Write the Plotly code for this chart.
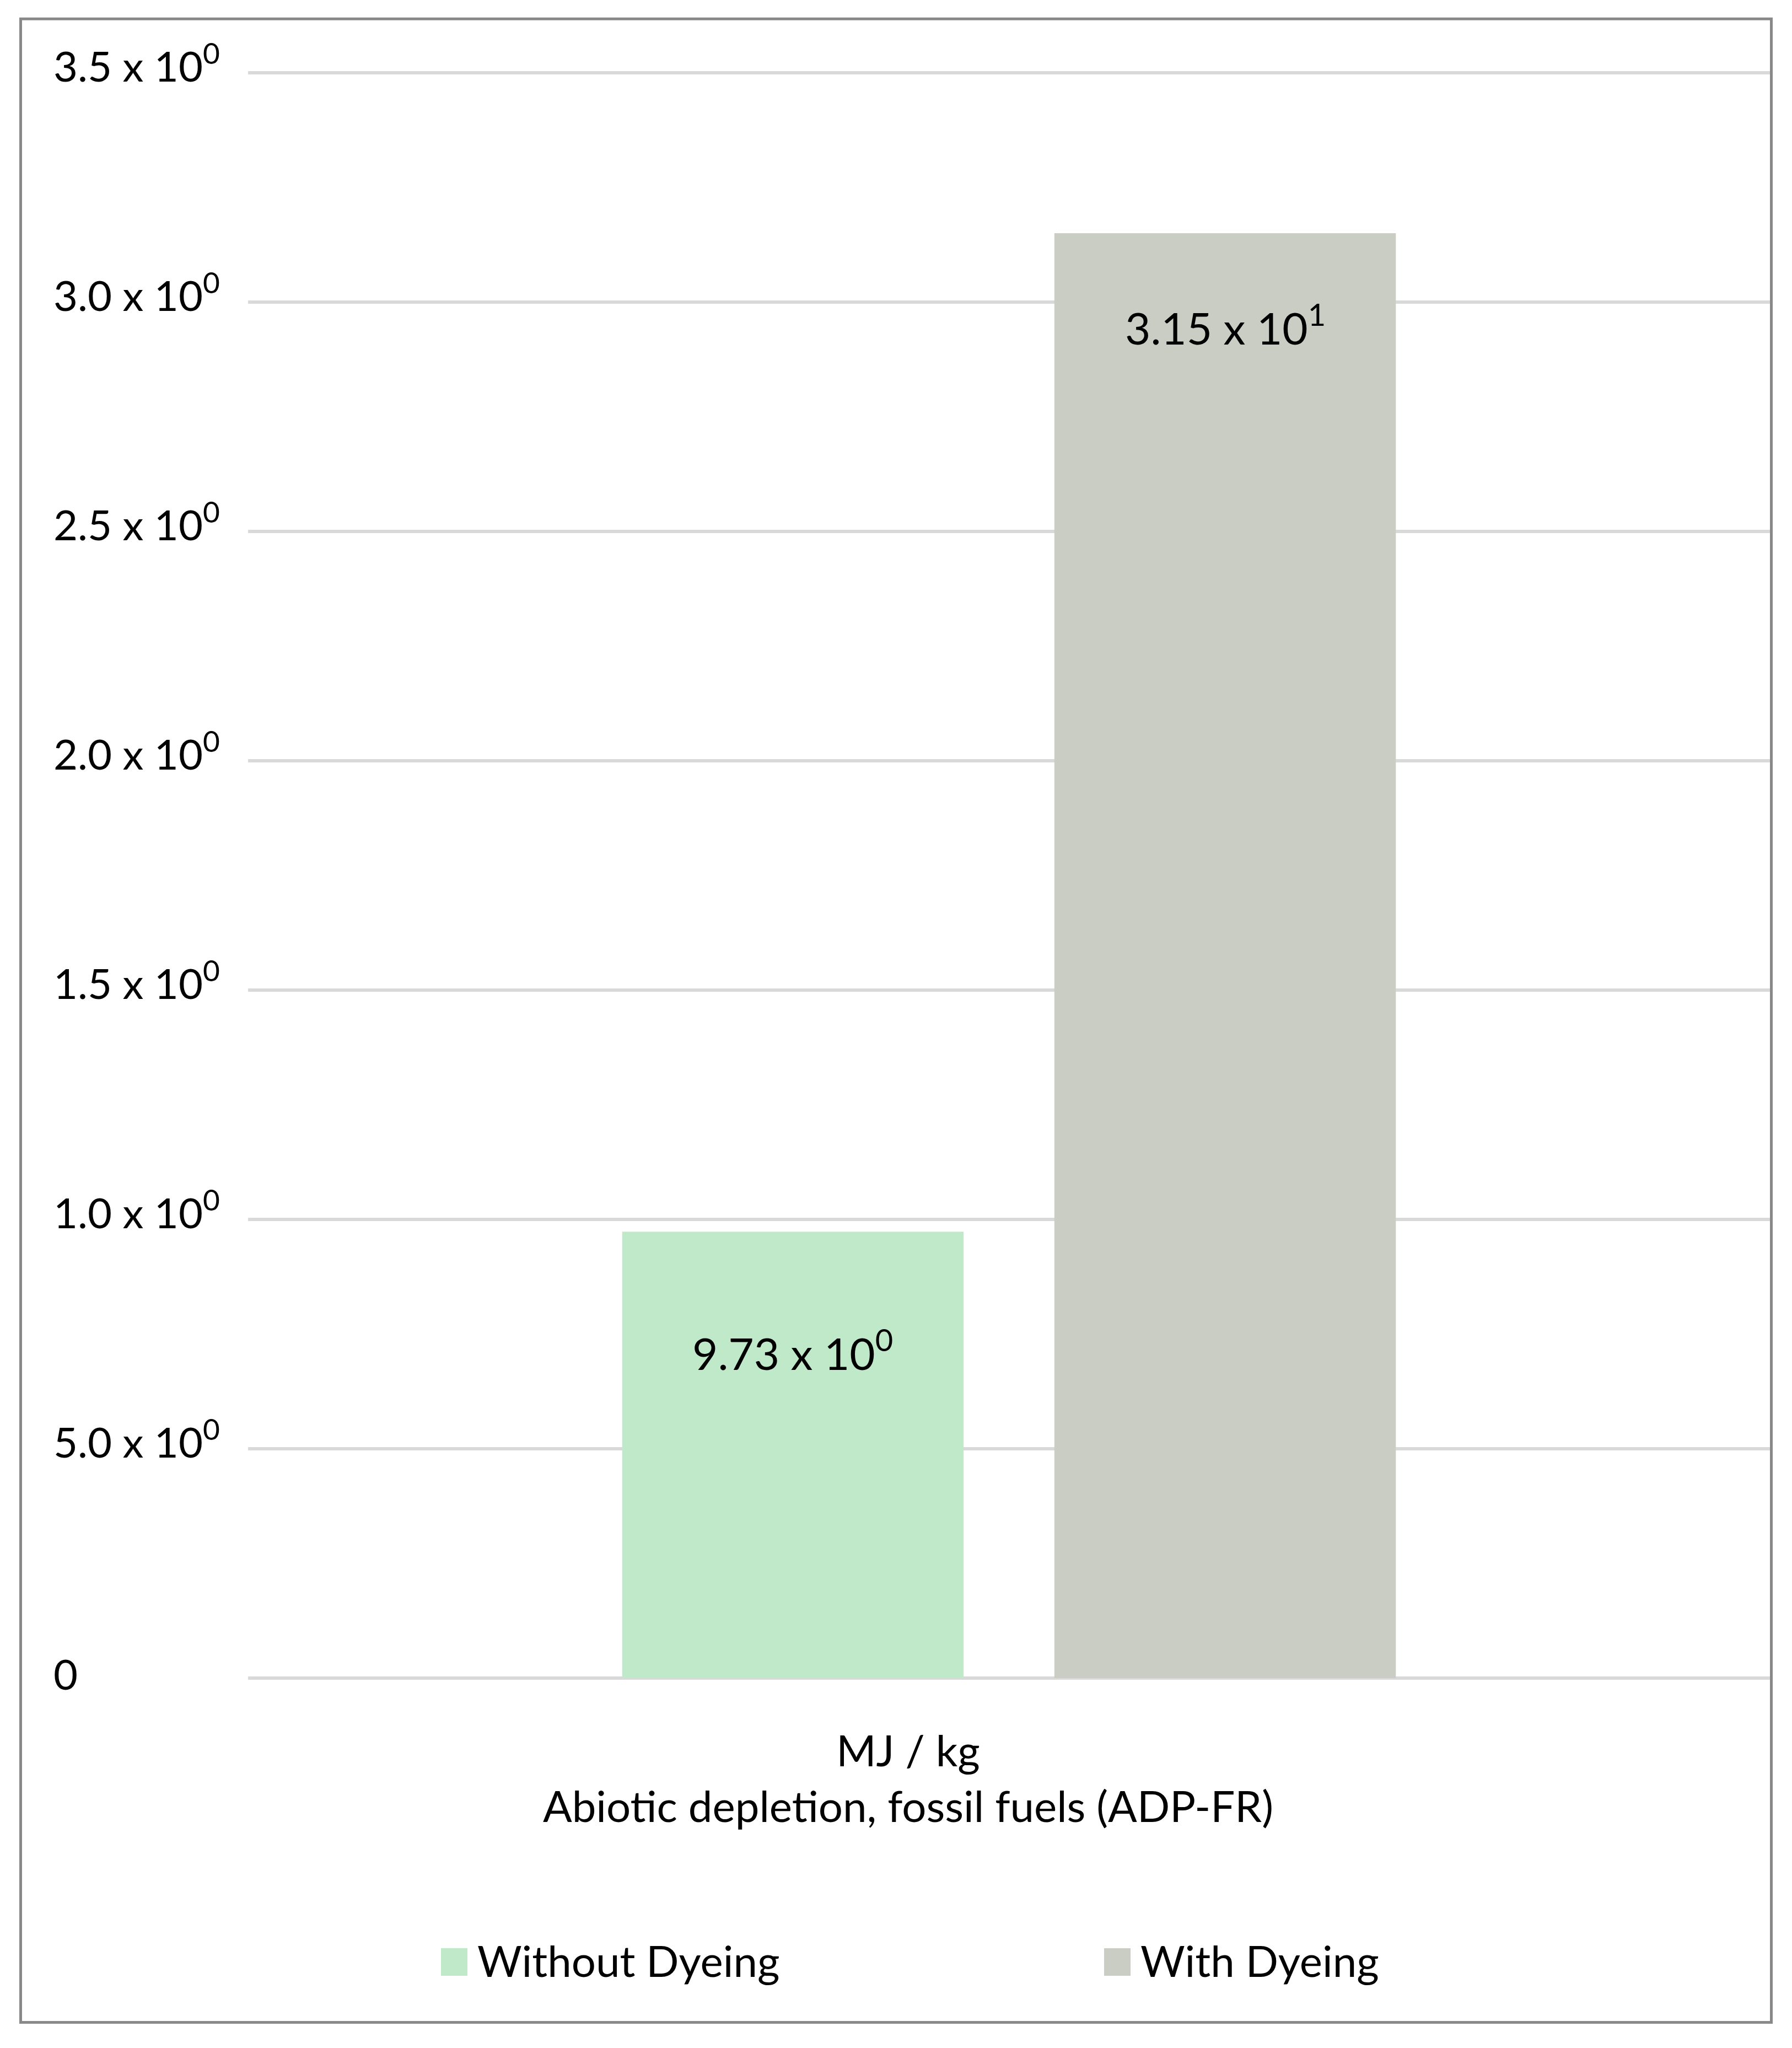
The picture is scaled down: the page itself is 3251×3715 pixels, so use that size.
import plotly.graph_objects as go

# data
categories = ["MJ / kg<br>Abiotic depletion, fossil fuels (ADP-FR)"]
series_names = ["Without Dyeing", "With Dyeing"]
without_dyeing = [9.73]
with_dyeing = [31.5]
value_labels = ["9.73 x 10<sup>0</sup>", "3.15 x 10<sup>1</sup>"]
tick_vals = [0, 5, 10, 15, 20, 25, 30, 35]
tick_labels = ["0", "5.0 x 10<sup>0</sup>", "1.0 x 10<sup>0</sup>", "1.5 x 10<sup>0</sup>",
               "2.0 x 10<sup>0</sup>", "2.5 x 10<sup>0</sup>", "3.0 x 10<sup>0</sup>",
               "3.5 x 10<sup>0</sup>"]

colors = ["#c0e9c9", "#c9cdc4"]
FONT = "Lato"

# page / plot area in pixels
W, H = 3251, 3715
YMAX = 35.08
L, R, B = 450, 3211, 3044
T = 132 - (YMAX - 35) * (3044 - 132) / 35
bargap, bargroupgap = 0.432, 0.21


def px(x):
    return (x - L) / (R - L)


def py(y):
    return (B - y) / (B - T)


fig = go.Figure()
for name, vals, c in zip(series_names, [without_dyeing, with_dyeing], colors):
    fig.add_trace(go.Bar(x=categories, y=vals, name=name, marker=dict(color=c, line=dict(width=0)),
                         showlegend=False, hoverinfo="skip"))

annotations = []
# left aligned y tick labels
for v, t in zip(tick_vals, tick_labels):
    annotations.append(dict(x=px(95), xref="paper", y=v, yref="y", text=t, showarrow=False,
                            xanchor="left", yanchor="middle", yshift=18 if "<sup>" in t else 9,
                            font=dict(family=FONT, size=76, color="#000000")))

# value labels inside the bars
slot = (R - L) * (1 - bargap) / 2
label_drop = [215, 166]
for i, (vals, lab) in enumerate(zip([without_dyeing, with_dyeing], value_labels)):
    annotations.append(dict(x=categories[0], y=vals[0], xref="x", yref="y", text=lab, showarrow=False,
                            xshift=(i - 0.5) * slot, yshift=-label_drop[i], yanchor="middle",
                            font=dict(family=FONT, size=80, color="#000000")))

# category label, centred on the chart area like the original
annotations.append(dict(x=px(1647), y=py(3224), xref="paper", yref="paper", text=categories[0],
                        showarrow=False, xanchor="center", yanchor="middle",
                        font=dict(family=FONT, size=78, color="#000000")))

# custom legend
shapes = []
legend_x = [800, 2003]
for xs, name, c in zip(legend_x, series_names, colors):
    shapes.append(dict(type="rect", xref="paper", yref="paper", x0=px(xs), x1=px(xs + 48),
                       y0=py(3584), y1=py(3534), fillcolor=c, line=dict(width=0)))
    annotations.append(dict(x=px(xs + 64), y=py(3556), xref="paper", yref="paper", text=name,
                            showarrow=False, xanchor="left", yanchor="middle",
                            font=dict(family=FONT, size=78, color="#000000")))

# outer border
shapes.append(dict(type="rect", xref="paper", yref="paper", x0=px(37.5), x1=px(3213.5),
                   y0=py(3668.5), y1=py(34.5), line=dict(color="#898989", width=5)))

fig.update_layout(
    width=W, height=H,
    margin=dict(l=L, r=W - R, t=T, b=H - B),
    paper_bgcolor="white", plot_bgcolor="white",
    barmode="group", bargap=bargap, bargroupgap=bargroupgap,
    showlegend=False,
    font=dict(family=FONT, size=80, color="#000000"),
    xaxis=dict(showgrid=False, showline=False, ticks="", showticklabels=False),
    yaxis=dict(range=[0, YMAX], tickvals=tick_vals, showticklabels=False, showgrid=True,
               gridcolor="#d9d9d9", gridwidth=6, zeroline=True, zerolinecolor="#d9d9d9",
               zerolinewidth=6, showline=False),
    annotations=annotations,
    shapes=shapes,
)

fig.write_html("out.html", config={"displayModeBar": False},
               post_script=["document.body.style.margin = '0';"])
